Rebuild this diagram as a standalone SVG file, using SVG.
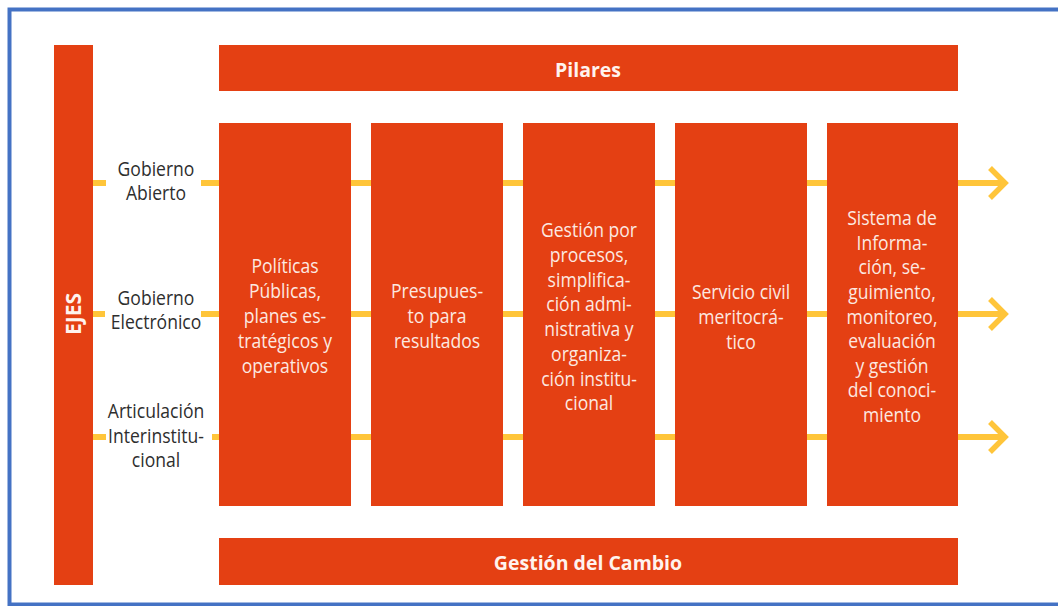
<svg xmlns="http://www.w3.org/2000/svg" width="1058" height="606" viewBox="0 0 1058 606">
<style>
.bar{fill:#E44013}
.t{font-family:"Open Sans","Noto Sans",sans-serif;font-size:19.5px;text-anchor:middle}
.w{fill:#FCE9E1}
.b{font-weight:bold;fill:#FFF3EE;font-size:19.5px}
.lab{fill:#2E2E2E}
.con{stroke:#FFC53A;stroke-width:6;fill:none}
</style>
<defs>
<marker id="chev" markerUnits="userSpaceOnUse" markerWidth="24" markerHeight="36" refX="18" refY="18" orient="auto" viewBox="0 0 24 36">
<polyline points="3,3 18,18 3,33" fill="none" stroke="#FFC53A" stroke-width="5.5"/>
</marker>
</defs>
<rect x="0" y="0" width="1058" height="606" fill="#fff"/>
<rect x="9.5" y="9.5" width="1060" height="595" fill="none" stroke="#4472C4" stroke-width="4"/>
<g id="connectors">
<line class="con" x1="93" y1="183" x2="106" y2="183"/>
<line class="con" x1="201" y1="183" x2="1005" y2="183" marker-end="url(#chev)"/>
<line class="con" x1="93" y1="314" x2="105" y2="314"/>
<line class="con" x1="201" y1="314" x2="1005" y2="314" marker-end="url(#chev)"/>
<line class="con" x1="93" y1="437" x2="106" y2="437"/>
<line class="con" x1="212" y1="437" x2="1005" y2="437" marker-end="url(#chev)"/>
</g>
<g id="ejes">
<rect class="bar" x="54" y="45" width="39" height="540"/>
<text class="t b" transform="translate(81,314) rotate(-90)" x="0" y="0" style="font-size:21px">EJES</text>
</g>
<g id="pilares">
<rect class="bar" x="219" y="45" width="739" height="46"/>
<text class="t b" x="588" y="77">Pilares</text>
</g>
<g id="gestion-cambio">
<rect class="bar" x="219" y="538" width="739" height="47"/>
<text class="t b" x="588" y="570">Gestión del Cambio</text>
</g>
<g id="gobierno-abierto">
<g transform="translate(156 0) scale(0.9 1)">
<text class="t lab" x="0" y="176">Gobierno</text>
<text class="t lab" x="0" y="200">Abierto</text>
</g>
</g>
<g id="gobierno-electronico">
<g transform="translate(156 0) scale(0.9 1)">
<text class="t lab" x="0" y="305">Gobierno</text>
<text class="t lab" x="0" y="329">Electrónico</text>
</g>
</g>
<g id="articulacion">
<g transform="translate(156 0) scale(0.9 1)">
<text class="t lab" x="0" y="418">Articulación</text>
<text class="t lab" x="0" y="443">Interinstitu-</text>
<text class="t lab" x="0" y="467">cional</text>
</g>
</g>
<g id="politicas">
<rect class="bar" x="219" y="123" width="132" height="383"/>
<g transform="translate(285 0) scale(0.9 1)">
<text class="t w" x="0" y="273">Políticas</text>
<text class="t w" x="0" y="298">Públicas,</text>
<text class="t w" x="0" y="323">planes es-</text>
<text class="t w" x="0" y="348">tratégicos y</text>
<text class="t w" x="0" y="373">operativos</text>
</g>
</g>
<g id="presupuesto">
<rect class="bar" x="371" y="123" width="132" height="383"/>
<g transform="translate(437 0) scale(0.9 1)">
<text class="t w" x="0" y="298">Presupues-</text>
<text class="t w" x="0" y="323">to para</text>
<text class="t w" x="0" y="348">resultados</text>
</g>
</g>
<g id="gestion-procesos">
<rect class="bar" x="523" y="123" width="132" height="383"/>
<g transform="translate(589 0) scale(0.9 1)">
<text class="t w" x="0" y="237">Gestión por</text>
<text class="t w" x="0" y="262">procesos,</text>
<text class="t w" x="0" y="287">simplifica-</text>
<text class="t w" x="0" y="311">ción admi-</text>
<text class="t w" x="0" y="336">nistrativa y</text>
<text class="t w" x="0" y="361">organiza-</text>
<text class="t w" x="0" y="386">ción institu-</text>
<text class="t w" x="0" y="410">cional</text>
</g>
</g>
<g id="servicio-civil">
<rect class="bar" x="675" y="123" width="132" height="383"/>
<g transform="translate(741 0) scale(0.9 1)">
<text class="t w" x="0" y="299">Servicio civil</text>
<text class="t w" x="0" y="324">meritocrá-</text>
<text class="t w" x="0" y="349">tico</text>
</g>
</g>
<g id="sistema-informacion">
<rect class="bar" x="827" y="123" width="131" height="383"/>
<g transform="translate(892 0) scale(0.9 1)">
<text class="t w" x="0" y="225">Sistema de</text>
<text class="t w" x="0" y="250">Informa-</text>
<text class="t w" x="0" y="274">ción, se-</text>
<text class="t w" x="0" y="299">guimiento,</text>
<text class="t w" x="0" y="324">monitoreo,</text>
<text class="t w" x="0" y="348">evaluación</text>
<text class="t w" x="0" y="373">y gestión</text>
<text class="t w" x="0" y="397">del conoci-</text>
<text class="t w" x="0" y="422">miento</text>
</g>
</g>
</svg>
